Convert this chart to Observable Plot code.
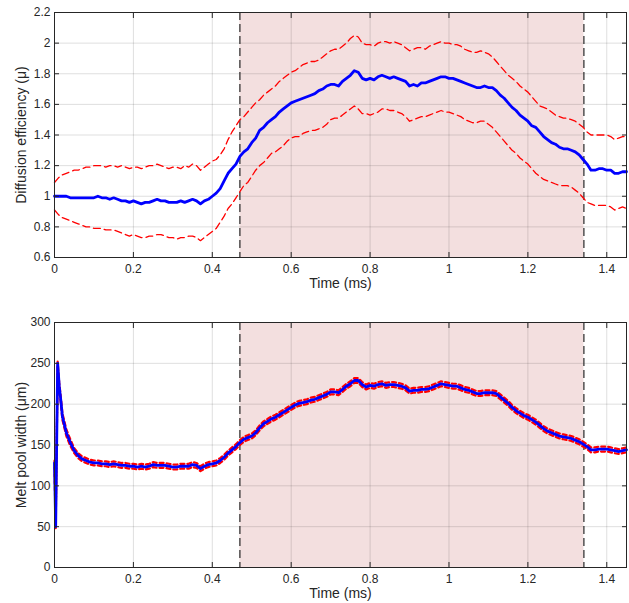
<!DOCTYPE html>
<html><head><meta charset="utf-8">
<script src="https://cdn.jsdelivr.net/npm/d3@7"></script>
<script src="https://cdn.jsdelivr.net/npm/@observablehq/plot@0.6"></script>
<style>body{margin:0;background:#fff}svg{display:block}</style>
</head><body><div id="chart"></div>
<script>
// ---------- Top panel: diffusion efficiency ----------
const timeTop = [
0.00,0.01,0.02,0.03,0.04,0.05,0.06,0.07,0.08,0.09,
0.10,0.11,0.12,0.13,0.14,0.15,0.16,0.17,0.18,0.19,
0.20,0.21,0.22,0.23,0.24,0.25,0.26,0.27,0.28,0.29,
0.30,0.31,0.32,0.33,0.34,0.35,0.36,0.37,0.38,0.39,
0.40,0.41,0.42,0.43,0.44,0.45,0.46,0.47,0.48,0.49,
0.50,0.51,0.52,0.53,0.54,0.55,0.56,0.57,0.58,0.59,
0.60,0.61,0.62,0.63,0.64,0.65,0.66,0.67,0.68,0.69,
0.70,0.71,0.72,0.73,0.74,0.75,0.76,0.77,0.78,0.79,
0.80,0.81,0.82,0.83,0.84,0.85,0.86,0.87,0.88,0.89,
0.90,0.91,0.92,0.93,0.94,0.95,0.96,0.97,0.98,0.99,
1.00,1.01,1.02,1.03,1.04,1.05,1.06,1.07,1.08,1.09,
1.10,1.11,1.12,1.13,1.14,1.15,1.16,1.17,1.18,1.19,
1.20,1.21,1.22,1.23,1.24,1.25,1.26,1.27,1.28,1.29,
1.30,1.31,1.32,1.33,1.34,1.35,1.36,1.37,1.38,1.39,
1.40,1.41,1.42,1.43,1.44,1.45];
const meanTop = [
1.00,1.00,1.00,1.00,0.99,0.99,0.99,0.99,0.99,0.99,
0.99,1.00,0.99,0.99,0.98,0.99,0.98,0.97,0.97,0.96,
0.97,0.96,0.95,0.96,0.96,0.97,0.98,0.97,0.97,0.96,
0.96,0.96,0.97,0.96,0.97,0.98,0.97,0.95,0.97,0.98,
1.00,1.02,1.05,1.10,1.15,1.18,1.21,1.26,1.29,1.31,
1.35,1.38,1.43,1.45,1.48,1.50,1.52,1.55,1.57,1.59,
1.61,1.62,1.63,1.64,1.65,1.66,1.67,1.69,1.70,1.72,
1.73,1.73,1.72,1.75,1.77,1.79,1.82,1.81,1.77,1.76,
1.77,1.76,1.78,1.79,1.78,1.77,1.78,1.77,1.76,1.75,
1.72,1.73,1.72,1.74,1.74,1.75,1.76,1.77,1.78,1.78,
1.77,1.77,1.76,1.75,1.74,1.73,1.72,1.71,1.71,1.72,
1.71,1.71,1.69,1.66,1.64,1.61,1.58,1.56,1.53,1.51,
1.49,1.46,1.45,1.42,1.39,1.37,1.35,1.34,1.32,1.31,
1.31,1.30,1.29,1.27,1.24,1.21,1.17,1.17,1.18,1.18,
1.17,1.17,1.15,1.15,1.16,1.16];
const upperTop = [
1.09,1.12,1.14,1.15,1.16,1.17,1.17,1.18,1.19,1.19,
1.20,1.20,1.20,1.19,1.20,1.20,1.19,1.20,1.19,1.18,
1.19,1.19,1.18,1.19,1.20,1.20,1.21,1.20,1.19,1.18,
1.19,1.19,1.18,1.20,1.19,1.21,1.20,1.17,1.19,1.21,
1.23,1.24,1.27,1.31,1.37,1.42,1.46,1.50,1.52,1.55,
1.58,1.61,1.63,1.66,1.68,1.70,1.72,1.75,1.77,1.79,
1.81,1.82,1.84,1.86,1.87,1.88,1.88,1.89,1.91,1.93,
1.95,1.96,1.96,1.98,2.00,2.03,2.05,2.04,2.00,1.99,
1.99,1.98,2.00,2.01,2.01,2.00,2.01,2.00,1.99,1.97,
1.95,1.96,1.97,1.97,1.96,1.98,1.99,2.00,2.01,2.00,
2.00,1.99,1.99,1.98,1.96,1.95,1.94,1.94,1.95,1.94,
1.93,1.91,1.88,1.85,1.82,1.79,1.77,1.75,1.72,1.70,
1.68,1.65,1.62,1.59,1.58,1.57,1.55,1.53,1.52,1.51,
1.51,1.50,1.49,1.47,1.45,1.42,1.40,1.40,1.40,1.40,
1.40,1.39,1.37,1.38,1.39,1.39];
const lowerTop = [
0.91,0.88,0.86,0.85,0.84,0.83,0.82,0.81,0.80,0.80,
0.79,0.79,0.79,0.78,0.78,0.78,0.77,0.76,0.75,0.74,
0.75,0.74,0.73,0.73,0.74,0.74,0.75,0.75,0.74,0.73,
0.73,0.72,0.73,0.73,0.74,0.74,0.73,0.71,0.73,0.75,
0.77,0.79,0.83,0.87,0.92,0.95,0.99,1.03,1.07,1.09,
1.13,1.17,1.20,1.22,1.25,1.28,1.29,1.31,1.33,1.36,
1.38,1.39,1.39,1.41,1.42,1.43,1.43,1.44,1.45,1.47,
1.50,1.51,1.51,1.53,1.55,1.57,1.59,1.57,1.54,1.54,
1.53,1.54,1.55,1.57,1.57,1.56,1.56,1.55,1.54,1.52,
1.49,1.50,1.51,1.52,1.52,1.53,1.54,1.55,1.56,1.55,
1.55,1.54,1.53,1.52,1.50,1.49,1.48,1.48,1.49,1.49,
1.47,1.45,1.42,1.39,1.36,1.33,1.30,1.28,1.25,1.23,
1.21,1.18,1.15,1.13,1.11,1.10,1.09,1.08,1.07,1.07,
1.07,1.06,1.04,1.02,0.99,0.96,0.95,0.94,0.94,0.94,
0.94,0.93,0.91,0.92,0.93,0.92];

// ---------- Bottom panel: melt pool width ----------
const timeBottom = [
0.000,0.003,0.008,0.012,0.016,0.020,
0.03,0.04,0.05,0.06,0.07,0.08,0.09,
0.10,0.11,0.12,0.13,0.14,0.15,0.16,0.17,0.18,0.19,
0.20,0.21,0.22,0.23,0.24,0.25,0.26,0.27,0.28,0.29,
0.30,0.31,0.32,0.33,0.34,0.35,0.36,0.37,0.38,0.39,
0.40,0.41,0.42,0.43,0.44,0.45,0.46,0.47,0.48,0.49,
0.50,0.51,0.52,0.53,0.54,0.55,0.56,0.57,0.58,0.59,
0.60,0.61,0.62,0.63,0.64,0.65,0.66,0.67,0.68,0.69,
0.70,0.71,0.72,0.73,0.74,0.75,0.76,0.77,0.78,0.79,
0.80,0.81,0.82,0.83,0.84,0.85,0.86,0.87,0.88,0.89,
0.90,0.91,0.92,0.93,0.94,0.95,0.96,0.97,0.98,0.99,
1.00,1.01,1.02,1.03,1.04,1.05,1.06,1.07,1.08,1.09,
1.10,1.11,1.12,1.13,1.14,1.15,1.16,1.17,1.18,1.19,
1.20,1.21,1.22,1.23,1.24,1.25,1.26,1.27,1.28,1.29,
1.30,1.31,1.32,1.33,1.34,1.35,1.36,1.37,1.38,1.39,
1.40,1.41,1.42,1.43,1.44,1.45];
const meanBottom = [
128,50,250,222,205,185,
165,153,143,137,133,131,129,
128,128,127,127,126,127,126,125,125,124,
124,123,124,123,124,126,125,125,125,124,
123,123,124,124,124,126,125,121,124,126,
127,128,131,135,140,144,148,153,157,159,
161,165,171,176,179,182,184,187,190,193,
196,199,201,202,203,205,206,208,210,212,
215,215,214,218,222,225,229,229,224,221,
223,222,224,225,223,224,224,223,222,220,
216,217,217,218,218,219,221,223,225,224,
223,222,222,220,218,217,215,213,213,214,
214,214,213,209,205,201,196,192,189,186,
184,181,178,174,170,167,165,163,161,160,
159,158,156,154,151,148,144,144,145,145,
145,144,143,142,143,144];
const upperBottom = [
131,53,252,226,209,189,
169,157,146,140,136,134,132,
131,131,130,130,129,130,129,128,128,127,
127,126,127,126,127,129,128,128,128,127,
126,126,127,127,127,129,128,124,127,129,
130,131,134,138,143,147,151,156,160,162,
164,168,174,179,182,185,187,190,193,196,
199,202,204,205,206,208,209,211,213,215,
218,218,217,221,225,228,232,232,227,224,
226,225,227,228,226,227,227,226,225,223,
219,220,220,221,221,222,224,226,228,227,
226,225,225,223,221,220,218,216,216,217,
217,217,216,212,208,204,199,195,192,189,
187,184,181,177,173,170,168,166,164,163,
162,161,159,157,154,151,147,147,148,148,
148,147,146,145,146,147];
const lowerBottom = [
125,48,247,218,201,181,
161,149,140,134,130,128,126,
125,125,124,124,123,124,123,122,122,121,
121,120,121,120,121,123,122,122,122,121,
120,120,121,121,121,123,122,118,121,123,
124,125,128,132,137,141,145,150,154,156,
158,162,168,173,176,179,181,184,187,190,
193,196,198,199,200,202,203,205,207,209,
212,212,211,215,219,222,226,226,221,218,
220,219,221,222,220,221,221,220,219,217,
213,214,214,215,215,216,218,220,222,221,
220,219,219,217,215,214,212,210,210,211,
211,211,210,206,202,198,193,189,186,183,
181,178,175,171,167,164,162,160,158,157,
156,155,153,151,148,145,141,141,142,142,
142,141,140,139,140,141];

// ---------- shared ----------
const shadeStart = [0.47];
const shadeEnd = [1.342];
const xTicks = [0, 0.2, 0.4, 0.6, 0.8, 1, 1.2, 1.4];
const yTicksTop = [0.6, 0.8, 1, 1.2, 1.4, 1.6, 1.8, 2, 2.2];
const yTicksBottom = [0, 50, 100, 150, 200, 250, 300];
const xLabel = "Time (ms)";
const yLabelTop = "Diffusion efficiency (\u03bc)";
const yLabelBottom = "Melt pool width (\u03bcm)";

const fmt = d => String(+d.toFixed(2));
const AX = "#262626";
const FONT = "'Liberation Sans', Arial, Helvetica, sans-serif";

function panel(o) {
  const rows = o.times.map((t, i) => ({t, mean: o.mean[i], upper: o.upper[i], lower: o.lower[i]}));
  const shade = shadeStart.map((s, i) => ({start: s, end: shadeEnd[i]}));
  const bounds = shadeStart.concat(shadeEnd);
  return Plot.plot({
    width: 629, height: o.height,
    marginLeft: 54, marginRight: 3, marginTop: o.marginTop, marginBottom: o.marginBottom,
    style: {fontFamily: FONT, fontSize: "12px", color: AX, background: "white", overflow: "visible"},
    x: {domain: [0, 1.45]},
    y: {domain: o.yDomain},
    marks: [
      Plot.rect(shade, {x1: "start", x2: "end", fill: "#f3dfdf"}),
      Plot.gridX(xTicks, {stroke: "#000", strokeOpacity: 0.13, strokeWidth: 1}),
      Plot.gridY(o.yTicks, {stroke: "#000", strokeOpacity: 0.13, strokeWidth: 1}),
      Plot.ruleX(bounds, {stroke: AX, strokeWidth: 1.2, strokeDasharray: "8,4"}),
      Plot.line(rows, {x: "t", y: "upper", stroke: "#ff0000", strokeWidth: o.redWidth, strokeDasharray: o.redDash}),
      Plot.line(rows, {x: "t", y: "lower", stroke: "#ff0000", strokeWidth: o.redWidth, strokeDasharray: o.redDash}),
      Plot.line(rows, {x: "t", y: "mean", stroke: "#0000ff", strokeWidth: 2.8}),
      Plot.frame({stroke: AX, strokeWidth: 1}),
      Plot.axisX(xTicks, {anchor: "bottom", tickSize: -5, tickPadding: 12, tickFormat: fmt, stroke: AX, fill: AX, label: null, fontSize: 12}),
      Plot.axisX(xTicks, {anchor: "top", tickSize: -5, tickFormat: () => "", label: null, stroke: AX}),
      Plot.axisY(o.yTicks, {anchor: "left", tickSize: -5, tickPadding: 9, tickFormat: fmt, stroke: AX, fill: AX, label: null, fontSize: 12}),
      Plot.axisY(o.yTicks, {anchor: "right", tickSize: -5, tickFormat: () => "", label: null, stroke: AX}),
      Plot.text([xLabel], {frameAnchor: "bottom", dy: 30, text: d => d, fontSize: 14, fill: AX, fontFamily: FONT, textAnchor: "middle"}),
      Plot.text([o.yLabel], {frameAnchor: "left", dx: -32.5, rotate: -90, text: d => d, fontSize: 14, fill: AX, fontFamily: FONT, textAnchor: "middle"})
    ]
  });
}

const top1 = panel({times: timeTop, mean: meanTop, upper: upperTop, lower: lowerTop,
  yDomain: [0.6, 2.2], yTicks: yTicksTop, yLabel: yLabelTop,
  height: 300, marginTop: 12, marginBottom: 43, redWidth: 1.3, redDash: "7,4"});
const bottom1 = panel({times: timeBottom, mean: meanBottom, upper: upperBottom, lower: lowerBottom,
  yDomain: [0, 300], yTicks: yTicksBottom, yLabel: yLabelBottom,
  height: 303, marginTop: 22, marginBottom: 36, redWidth: 2.2, redDash: "4,3"});
const root = document.getElementById("chart");
root.appendChild(top1);
root.appendChild(bottom1);
</script>
</body></html>
